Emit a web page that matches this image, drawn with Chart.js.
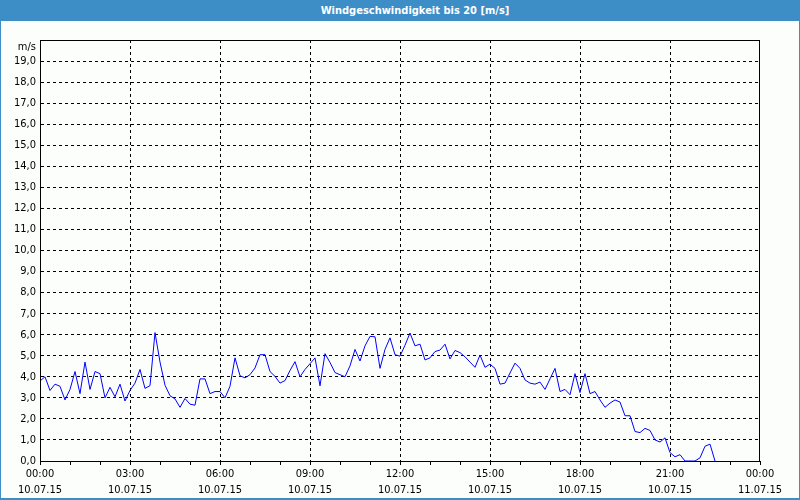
<!DOCTYPE html>
<html>
<head>
<meta charset="utf-8">
<script src="https://cdn.jsdelivr.net/npm/chart.js@4.4.0/dist/chart.umd.min.js"></script>
<style>
    html, body { margin: 0; padding: 0; }
    body { width: 800px; height: 500px; position: relative; background: #fcfefc; overflow: hidden; }
    #frame {
        position: absolute; left: 0; top: 0; width: 798px; height: 498px;
        border-left: 1px solid #3d8ec7; border-right: 1px solid #3d8ec7; border-bottom: 2px solid #3d8ec7;
    }
    #title {
        position: absolute; left: 0; top: 0; width: 800px; height: 21px; background: #3d8ec7;
        color: #fff; font: bold 11px 'DejaVu Sans Condensed', 'Liberation Sans', sans-serif;
        line-height: 21px; text-align: center; box-sizing: border-box; padding-left: 30px;
    }
    #wrap { position: absolute; left: 0; top: 0; width: 800px; height: 500px; }
</style>
</head>
<body>
<div id="wrap"><canvas id="chart" width="800" height="500"></canvas></div>
<div id="frame"></div>
<div id="title">Windgeschwindigkeit bis 20 [m/s]</div>
<script>
// wind speed, 10-minute samples starting 10.07.15 00:00
const windSpeed = [
    3.8, 4.0, 3.35, 3.65, 3.55, 2.9, 3.4, 4.25, 3.2, 4.7,
    3.4, 4.25, 4.15, 3.0, 3.5, 3.05, 3.65, 2.85, 3.35, 3.7,
    4.35, 3.45, 3.58, 6.1, 4.7, 3.6, 3.1, 2.95, 2.55, 2.97,
    2.7, 2.65, 3.9, 3.9, 3.2, 3.3, 3.3, 3.0, 3.55, 4.9,
    4.05, 3.95, 4.1, 4.42, 5.05, 5.05, 4.25, 4.02, 3.7, 3.82,
    4.3, 4.72, 4.0, 4.35, 4.62, 4.9, 3.57, 5.1, 4.68, 4.2,
    4.1, 4.0, 4.52, 5.3, 4.75, 5.47, 5.92, 5.9, 4.4, 5.3,
    5.85, 5.05, 4.98, 5.5, 6.08, 5.47, 5.55, 4.8, 4.9, 5.2,
    5.27, 5.55, 4.85, 5.25, 5.15, 4.95, 4.7, 4.45, 5.03, 4.45,
    4.6, 4.4, 3.65, 3.7, 4.18, 4.65, 4.4, 3.85, 3.7, 3.65,
    3.75, 3.4, 3.9, 4.4, 3.3, 3.4, 3.15, 4.15, 3.25, 4.15,
    3.2, 3.3, 2.9, 2.55, 2.75, 2.9, 2.8, 2.15, 2.15, 1.4,
    1.35, 1.55, 1.45, 1.0, 0.9, 1.1, 0.4, 0.2, 0.3, 0.0,
    0.0, 0.0, 0.15, 0.7, 0.8, 0.0
];
const sampleMinutes = 10;
const timeLabels = ['00:00', '03:00', '06:00', '09:00', '12:00', '15:00', '18:00', '21:00', '00:00'];
const dateLabels = ['10.07.15', '10.07.15', '10.07.15', '10.07.15', '10.07.15', '10.07.15', '10.07.15', '10.07.15', '11.07.15'];
const unitLabel = 'm/s';

const FONT = "'DejaVu Sans Condensed', 'Liberation Sans', sans-serif";
const points = windSpeed.map((v, i) => ({ x: i * sampleMinutes / 60, y: v }));

// solid frame round the plot + unit label
const framePlugin = {
    id: 'frame',
    afterDraw(chart) {
        const { ctx, chartArea: a } = chart;
        ctx.save();
        ctx.strokeStyle = '#000';
        ctx.lineWidth = 1;
        ctx.strokeRect(a.left + 0.5, a.top + 0.5, a.right - a.left - 1, a.bottom - a.top);
        ctx.fillStyle = '#000';
        ctx.font = '11px ' + FONT;
        ctx.textAlign = 'right';
        ctx.textBaseline = 'middle';
        ctx.fillText(unitLabel, a.left - 4, a.top + 7);
        ctx.restore();
    }
};

new Chart(document.getElementById('chart'), {
    type: 'line',
    data: {
        datasets: [{
            data: points,
            borderColor: '#0000ff',
            borderWidth: 1,
            pointRadius: 0,
            tension: 0,
            fill: false
        }]
    },
    options: {
        responsive: false,
        animation: false,
        layout: { padding: { left: 0, right: 40, top: 40, bottom: 0 } },
        plugins: { legend: { display: false }, tooltip: { enabled: false } },
        scales: {
            x: {
                type: 'linear',
                min: 0,
                max: 24,
                afterFit: s => { s.height = 39; },
                ticks: {
                    stepSize: 1,
                    autoSkip: false,
                    maxRotation: 0,
                    padding: 1,
                    color: '#000',
                    font: { family: FONT, size: 11, lineHeight: 1.45 },
                    callback: v => v % 3 === 0 ? [timeLabels[v / 3], dateLabels[v / 3]] : ''
                },
                grid: {
                    color: c => (c.tick && c.tick.value % 3 === 0 && c.tick.value > 0 && c.tick.value < 24) ? '#000' : 'rgba(0,0,0,0)',
                    tickColor: '#000',
                    tickLength: 4
                },
                border: { color: '#000', dash: [3, 3] }
            },
            y: {
                min: 0,
                max: 20,
                afterFit: s => { s.width = 40; },
                ticks: {
                    stepSize: 1,
                    padding: 4,
                    color: '#000',
                    font: { family: FONT, size: 11 },
                    callback: v => v === 20 ? '' : v.toFixed(1).replace('.', ',')
                },
                grid: {
                    color: c => (c.tick && c.tick.value > 0 && c.tick.value < 20) ? '#000' : 'rgba(0,0,0,0)',
                    drawTicks: false
                },
                border: { color: '#000', dash: [3, 3] }
            }
        }
    },
    plugins: [framePlugin]
});
</script>
</body>
</html>
